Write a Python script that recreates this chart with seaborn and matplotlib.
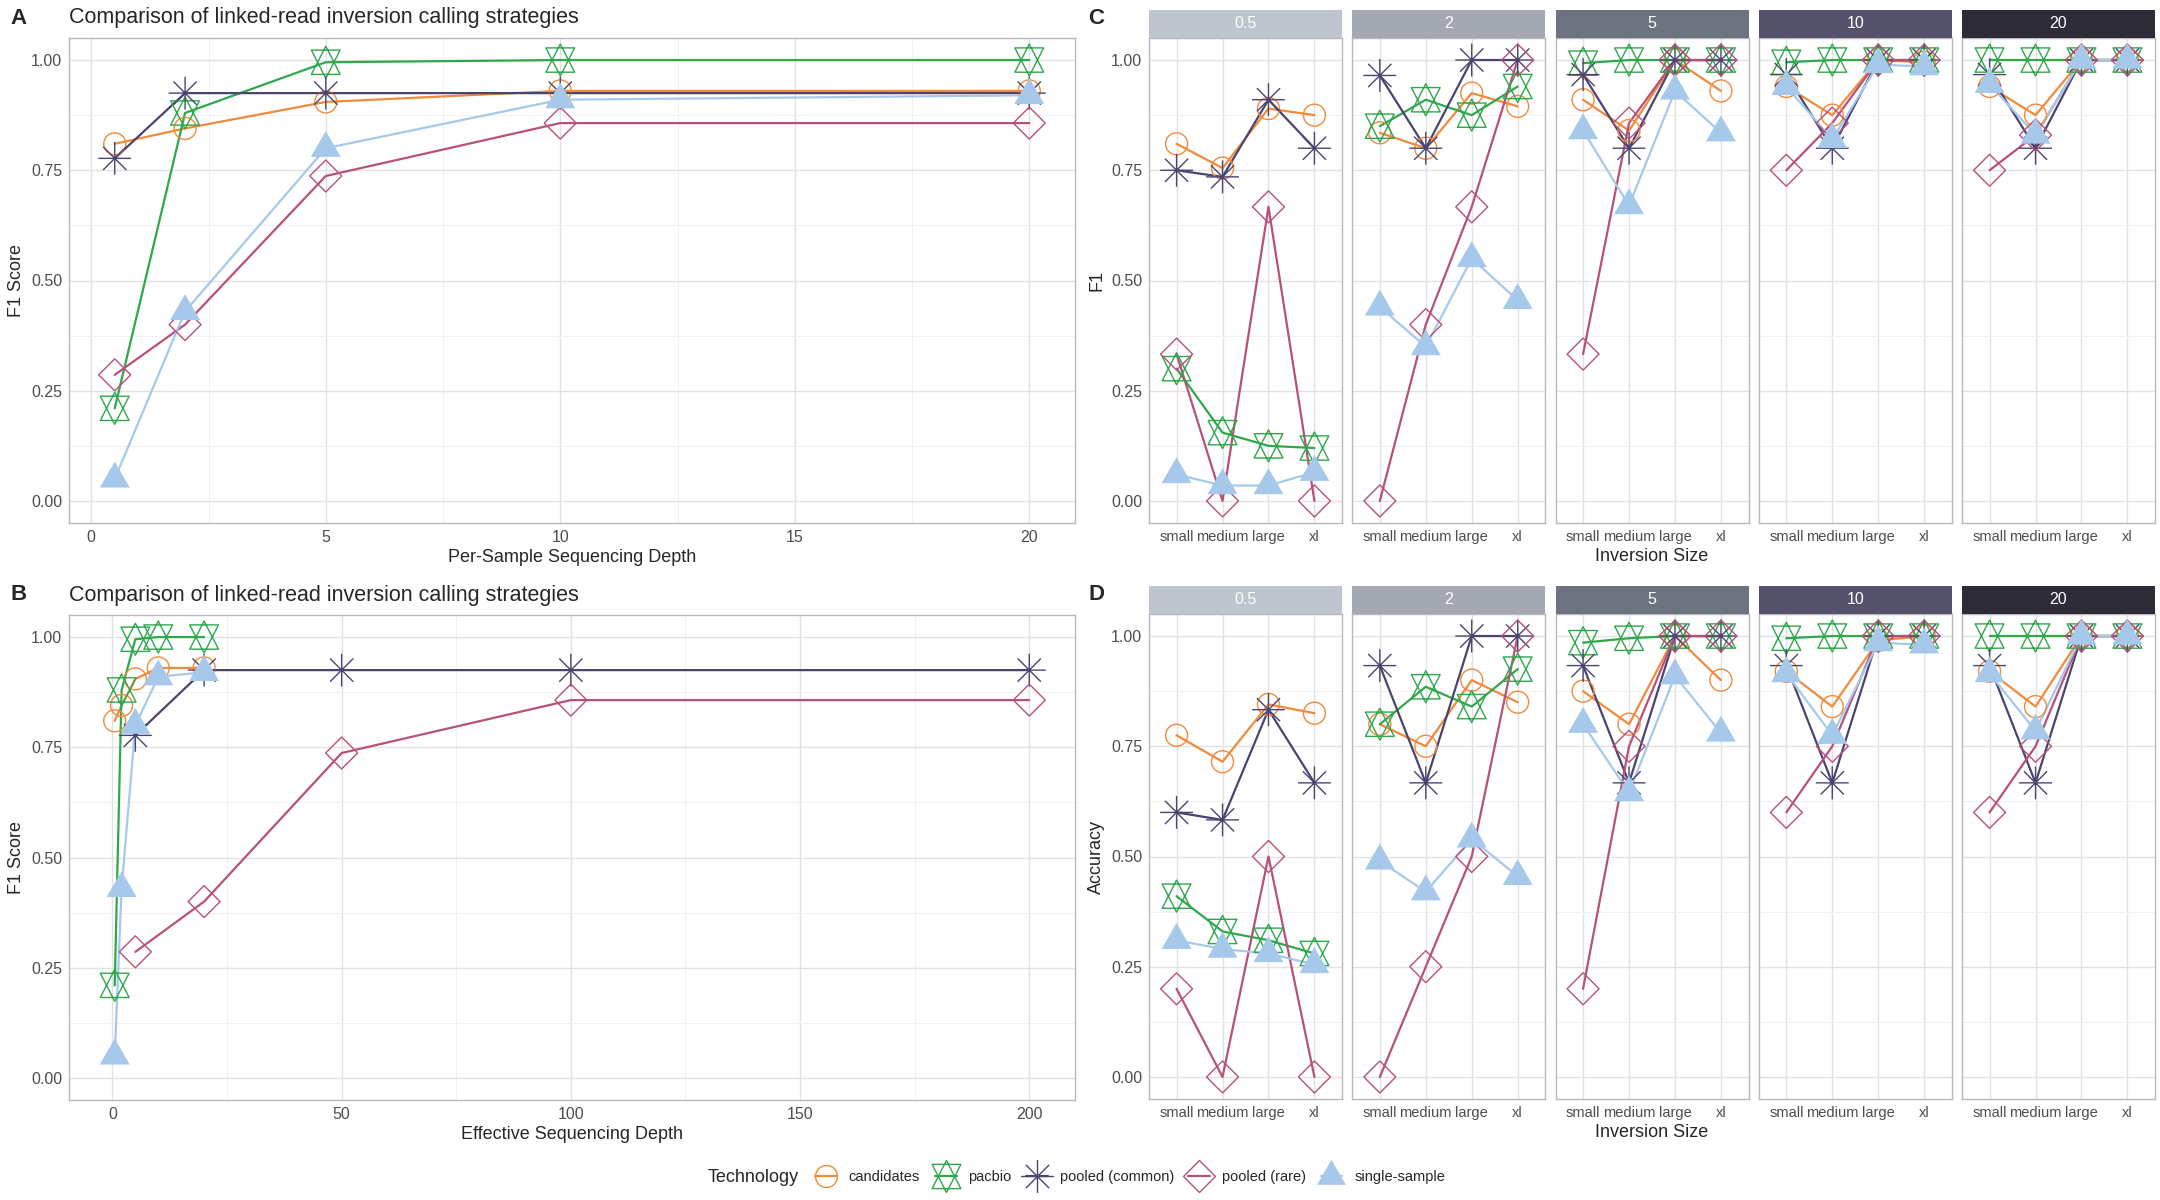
import numpy as np
import pandas as pd
import seaborn as sns
import matplotlib
matplotlib.use('Agg')
import matplotlib.pyplot as plt
from matplotlib.path import Path
from matplotlib.lines import Line2D

# ---- data ----
techs = ['candidates', 'pacbio', 'pooled (common)', 'pooled (rare)', 'single-sample']
depths = [0.5, 2, 5, 10, 20]
inv_sizes = ['small', 'medium', 'large', 'xl']
y_tick_labels = ['0.00', '0.25', '0.50', '0.75', '1.00']

# panel A/B : F1 by per-sample depth
f1_candidates = [0.81, 0.845, 0.905, 0.93, 0.93]
f1_pacbio = [0.21, 0.88, 0.995, 1.0, 1.0]
f1_pooled_common = [0.777, 0.925, 0.925, 0.925, 0.925]
f1_pooled_rare = [0.286, 0.40, 0.737, 0.857, 0.857]
f1_single = [0.05, 0.43, 0.80, 0.91, 0.92]

# effective depth (pooled = 10 samples)
eff_depth_single = [0.5, 2, 5, 10, 20]
eff_depth_pooled = [5, 20, 50, 100, 200]

# panel C : F1 by inversion size, one row per depth (0.5, 2, 5, 10, 20)
size_f1_candidates = [[0.81, 0.755, 0.89, 0.875], [0.835, 0.80, 0.925, 0.895], [0.91, 0.84, 1.0, 0.93],
                      [0.94, 0.875, 1.0, 0.995], [0.94, 0.875, 1.0, 1.0]]
size_f1_pacbio = [[0.30, 0.155, 0.125, 0.12], [0.85, 0.91, 0.875, 0.94], [0.993, 1.0, 1.0, 1.0],
                  [0.995, 1.0, 1.0, 1.0], [1.0, 1.0, 1.0, 1.0]]
size_f1_pooled_common = [[0.75, 0.735, 0.91, 0.80], [0.965, 0.80, 1.0, 1.0], [0.967, 0.80, 1.0, 1.0],
                         [0.967, 0.80, 1.0, 1.0], [0.967, 0.80, 1.0, 1.0]]
size_f1_pooled_rare = [[0.333, 0.0, 0.667, 0.0], [0.0, 0.40, 0.667, 1.0], [0.333, 0.857, 1.0, 1.0],
                       [0.75, 0.857, 1.0, 1.0], [0.75, 0.83, 1.0, 1.0]]
size_f1_single = [[0.06, 0.035, 0.035, 0.065], [0.44, 0.35, 0.55, 0.455], [0.84, 0.67, 0.93, 0.835],
                  [0.94, 0.82, 0.99, 0.985], [0.945, 0.83, 1.0, 1.0]]

# panel D : accuracy by inversion size
size_acc_candidates = [[0.775, 0.715, 0.845, 0.825], [0.80, 0.75, 0.90, 0.85], [0.875, 0.80, 1.0, 0.90],
                       [0.92, 0.84, 0.99, 1.0], [0.92, 0.84, 1.0, 1.0]]
size_acc_pacbio = [[0.41, 0.33, 0.31, 0.28], [0.80, 0.885, 0.84, 0.925], [0.985, 0.995, 1.0, 1.0],
                   [0.995, 1.0, 1.0, 1.0], [1.0, 1.0, 1.0, 1.0]]
size_acc_pooled_common = [[0.60, 0.583, 0.833, 0.667], [0.933, 0.667, 1.0, 1.0], [0.933, 0.667, 1.0, 1.0],
                          [0.933, 0.667, 1.0, 1.0], [0.933, 0.667, 1.0, 1.0]]
size_acc_pooled_rare = [[0.20, 0.0, 0.50, 0.0], [0.0, 0.25, 0.50, 1.0], [0.20, 0.75, 1.0, 1.0],
                        [0.60, 0.75, 1.0, 1.0], [0.60, 0.75, 1.0, 1.0]]
size_acc_single = [[0.31, 0.29, 0.28, 0.255], [0.49, 0.42, 0.54, 0.455], [0.80, 0.645, 0.91, 0.78],
                   [0.915, 0.775, 0.985, 0.98], [0.915, 0.785, 1.0, 1.0]]

# ---- build long tables ----
f1_by_tech = [f1_candidates, f1_pacbio, f1_pooled_common, f1_pooled_rare, f1_single]
eff_by_tech = [eff_depth_single, eff_depth_single, eff_depth_pooled, eff_depth_pooled, eff_depth_single]
rows = []
for t, f1, eff in zip(techs, f1_by_tech, eff_by_tech):
    for d, e, v in zip(depths, eff, f1):
        rows.append({'Technology': t, 'depth': d, 'eff': e, 'f1': v})
depth_df = pd.DataFrame(rows)

size_f1 = [size_f1_candidates, size_f1_pacbio, size_f1_pooled_common, size_f1_pooled_rare, size_f1_single]
size_acc = [size_acc_candidates, size_acc_pacbio, size_acc_pooled_common, size_acc_pooled_rare, size_acc_single]
rows = []
for t, f1m, accm in zip(techs, size_f1, size_acc):
    for di, d in enumerate(depths):
        for si, s in enumerate(inv_sizes):
            rows.append({'Technology': t, 'depth': d, 'size': s, 'pos': inv_sizes.index(s),
                         'f1': f1m[di][si], 'acc': accm[di][si]})
size_df = pd.DataFrame(rows)

# ---- styling ----
colors = ['#F28A3C', '#2FA84C', '#4A4570', '#B8507C', '#A6C9EB']
palette = dict(zip(techs, colors))
strip_colors = ['#BFC5CE', '#A3A8B2', '#6C727E', '#54516A', '#2D2C38']


def star_of_david():
    w = 0.9
    verts = [(0, 1), (-w, -0.76), (w, -0.76), (0, 1),
             (0, -1), (-w, 0.76), (w, 0.76), (0, -1)]
    codes = [Path.MOVETO, Path.LINETO, Path.LINETO, Path.CLOSEPOLY] * 2
    return Path(verts, codes)


def asterisk():
    a = 0.707
    verts = [(-1, 0), (1, 0), (0, -1), (0, 1), (-a, -a), (a, a), (-a, a), (a, -a)]
    codes = [Path.MOVETO, Path.LINETO] * 4
    return Path(verts, codes)


def diamond():
    verts = [(0, 1), (1, 0), (0, -1), (-1, 0), (0, 1)]
    codes = [Path.MOVETO, Path.LINETO, Path.LINETO, Path.LINETO, Path.CLOSEPOLY]
    return Path(verts, codes)


def triangle():
    verts = [(-1, -0.577), (1, -0.577), (0, 1.155), (-1, -0.577)]
    codes = [Path.MOVETO, Path.LINETO, Path.LINETO, Path.CLOSEPOLY]
    return Path(verts, codes)


markers = {'candidates': 'o', 'pacbio': star_of_david(), 'pooled (common)': asterisk(),
           'pooled (rare)': diamond(), 'single-sample': triangle()}
marker_s = {'candidates': 250, 'pacbio': 530, 'pooled (common)': 560,
            'pooled (rare)': 530, 'single-sample': 620}

sns.set_style('white')
plt.rcParams['font.family'] = ['Liberation Sans', 'DejaVu Sans']

W, H = 2160, 1200
fig = plt.figure(figsize=(W / 100, H / 100), dpi=100)


def add_ax(l, t, r, b):
    return fig.add_axes([l / W, 1 - b / H, (r - l) / W, (b - t) / H])


def draw(ax, df, x, y):
    sns.lineplot(data=df, x=x, y=y, hue='Technology', hue_order=techs, palette=palette,
                 estimator=None, sort=False, lw=1.6, legend=False, ax=ax, zorder=2)
    for t in techs:
        sub = df[df['Technology'] == t]
        if t == 'single-sample':
            sns.scatterplot(data=sub, x=x, y=y, ax=ax, marker=markers[t], s=marker_s[t],
                            color=palette[t], edgecolor='none', legend=False, zorder=3)
        else:
            sns.scatterplot(data=sub, x=x, y=y, ax=ax, marker=markers[t], s=marker_s[t],
                            facecolor='none', edgecolor=palette[t], linewidth=1.0,
                            legend=False, zorder=3)


def style(ax, show_y=True):
    ax.set_ylim(-0.05, 1.05)
    ax.set_yticks([0, 0.25, 0.5, 0.75, 1.0])
    ax.set_yticks([0.125, 0.375, 0.625, 0.875], minor=True)
    ax.set_yticklabels(y_tick_labels)
    ax.grid(which='major', color='#E2E2E2', lw=1.0)
    ax.grid(which='minor', color='#F1F1F1', lw=0.7)
    ax.set_axisbelow(True)
    for sp in ax.spines.values():
        sp.set_color('#B8B8B8')
        sp.set_linewidth(1.0)
    ax.tick_params(which='major', length=3, width=0.8, color='#B8B8B8', labelsize=11.5,
                   labelcolor='#4D4D4D', pad=2)
    ax.tick_params(which='minor', length=0)
    if not show_y:
        ax.tick_params(axis='y', which='both', length=0, labelleft=False)
    ax.set_xlabel('')
    ax.set_ylabel('')


# ---- panel A ----
axA = add_ax(69, 38, 1075, 523)
draw(axA, depth_df, 'depth', 'f1')
style(axA)
axA.set_xlim(-0.475, 20.975)
axA.set_xticks([0, 5, 10, 15, 20])
axA.set_xticks([2.5, 7.5, 12.5, 17.5], minor=True)
axA.set_xlabel('Per-Sample Sequencing Depth', fontsize=13, labelpad=3)
axA.set_ylabel('F1 Score', fontsize=13, labelpad=4)

# ---- panel B ----
axB = add_ax(69, 615, 1075, 1100)
draw(axB, depth_df, 'eff', 'f1')
style(axB)
axB.set_xlim(-9.475, 209.975)
axB.set_xticks([0, 50, 100, 150, 200])
axB.set_xticks([25, 75, 125, 175], minor=True)
axB.set_xlabel('Effective Sequencing Depth', fontsize=13, labelpad=3)
axB.set_ylabel('F1 Score', fontsize=13, labelpad=4)

# ---- panels C and D (facets by depth) ----
for metric, top, strip_top, ylab in [('f1', 38, 10, 'F1'), ('acc', 614, 586, 'Accuracy')]:
    facet_axes = []
    for i, d in enumerate(depths):
        l = 1149 + i * 203.25
        r = l + 193
        ax = add_ax(l, top, r, top + 485)
        draw(ax, size_df[size_df['depth'] == d], 'pos', metric)
        style(ax, show_y=(i == 0))
        ax.set_xlim(-0.6, 3.6)
        ax.set_xticks(range(len(inv_sizes)))
        ax.set_xticklabels(inv_sizes, fontsize=10.5)
        sax = add_ax(l, strip_top, r, top)
        sax.set_facecolor(strip_colors[i])
        sax.set_xticks([])
        sax.set_yticks([])
        for sp in sax.spines.values():
            sp.set_visible(False)
        sax.text(0.5, 0.5, f'{d:g}', color='white', fontsize=11.5, ha='center', va='center',
                 transform=sax.transAxes)
        facet_axes.append(ax)
    facet_axes[0].set_ylabel(ylab, fontsize=13, labelpad=4)
    facet_axes[2].set_xlabel('Inversion Size', fontsize=13, labelpad=3)

# ---- titles and panel letters ----
for letter, x, y in [('A', 10, 18), ('B', 10, 595), ('C', 1088, 18), ('D', 1088, 595)]:
    fig.text(x / W, 1 - y / H, letter, fontsize=16, fontweight='bold', va='center', ha='left')
for y in [18, 595]:
    fig.text(69 / W, 1 - y / H, 'Comparison of linked-read inversion calling strategies',
             fontsize=15.5, va='center', ha='left')

# ---- legend ----
handles = []
for t in techs:
    if t == 'single-sample':
        h = Line2D([0], [0], color=palette[t], lw=1.6, marker=markers[t], markersize=24,
                   markerfacecolor=palette[t], markeredgecolor='none')
    else:
        ms = np.sqrt(marker_s[t])
        h = Line2D([0], [0], color=palette[t], lw=1.6, marker=markers[t], markersize=ms,
                   markerfacecolor='none', markeredgecolor=palette[t], markeredgewidth=1.0)
    handles.append(h)
fig.text(708 / W, 1 - 1177 / H, 'Technology', fontsize=13, va='center', ha='left')
fig.legend(handles, techs, loc='center left', bbox_to_anchor=(808 / W, 1 - 1177 / H), ncol=5,
           frameon=False, fontsize=10.5, handlelength=1.5, handletextpad=0.8, columnspacing=1.0,
           borderpad=0)

fig.savefig('out.png', dpi=100)
